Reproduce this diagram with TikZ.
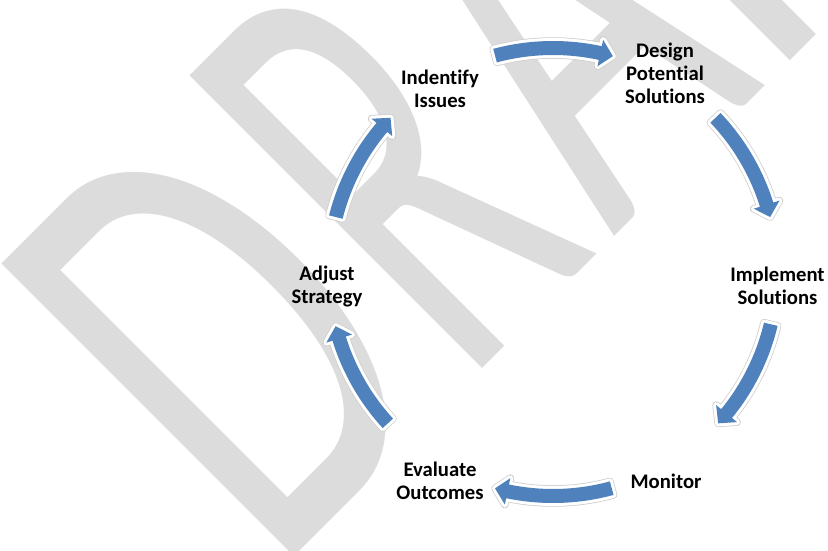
\documentclass[tikz,border=0pt]{standalone}
\usepackage{graphicx}
\usepackage{fontspec}
\setmainfont{Carlito}[Ligatures=NoCommon]
\definecolor{wmgray}{RGB}{220,220,220}
\definecolor{cycblue}{RGB}{79,129,189}
\definecolor{rimshadow}{RGB}{205,205,205}
\newcommand{\cycarrowpath}[2]{%
  (#1:231) arc[start angle=#1, end angle={#2+3.3}, radius=231]
  -- ({#2+3.3}:237.5) -- (#2:224) -- ({#2+3.3}:210.5) -- ({#2+3.3}:217)
  arc[start angle={#2+3.3}, end angle=#1, radius=217] -- cycle}
\tikzset{
  watermark/.style={inner sep=0pt, anchor=base west, text=wmgray,
    font={\fontsize{100}{100}\selectfont}, rotate=45, xscale=4.15, yscale=6.45},
  lbl/.style={inner sep=0pt, align=center, text=black,
    font={\fontsize{20.7}{23}\selectfont\bfseries}},
  arrowshadow/.style={draw=rimshadow, line width=7.5pt, line join=round},
  arrowrim/.style={draw=white, line width=6pt, line join=round},
  arrowfill/.style={fill=cycblue}
}
\begin{document}
\begin{tikzpicture}[x=1pt,y=1pt]
\useasboundingbox (0,0) rectangle (828,-550);
\fill[white] (0,0) rectangle (828,-550);
\begin{scope}
  \clip (0,0) rectangle (828,-550);
  \node[watermark] (wm) at (274,-577)
    {D\kern3.2pt\scalebox{0.855}[1]{R}\kern4.5pt\scalebox{0.9}[1]{A}\kern1.4pt FT};
\end{scope}
\coordinate (ctr) at (553,-272);
\begin{scope}[shift={(ctr)}]
  \foreach \a/\b in {105/74.5, 43.5/14.2, -13.5/-42.5, -74.8/-105, -137.5/-166, 165.8/136.5}{
    \path[arrowshadow] \cycarrowpath{\a}{\b};
    \path[arrowrim] \cycarrowpath{\a}{\b};
    \path[arrowfill] \cycarrowpath{\a}{\b};
  }
\end{scope}
\node[lbl] (identify) at (440,-89.25) {Indentify\\Issues};
\node[lbl] (design) at (665,-73.25) {Design\\Potential\\Solutions};
\node[lbl] (implement) at (777.5,-286.25) {Implement\\Solutions};
\node[lbl] (monitor) at (666,-481.3) {Monitor};
\node[lbl] (evaluate) at (440,-480.75) {Evaluate\\Outcomes};
\node[lbl] (adjust) at (327,-286.75) {Adjust\\Strategy};
\end{tikzpicture}
\end{document}
